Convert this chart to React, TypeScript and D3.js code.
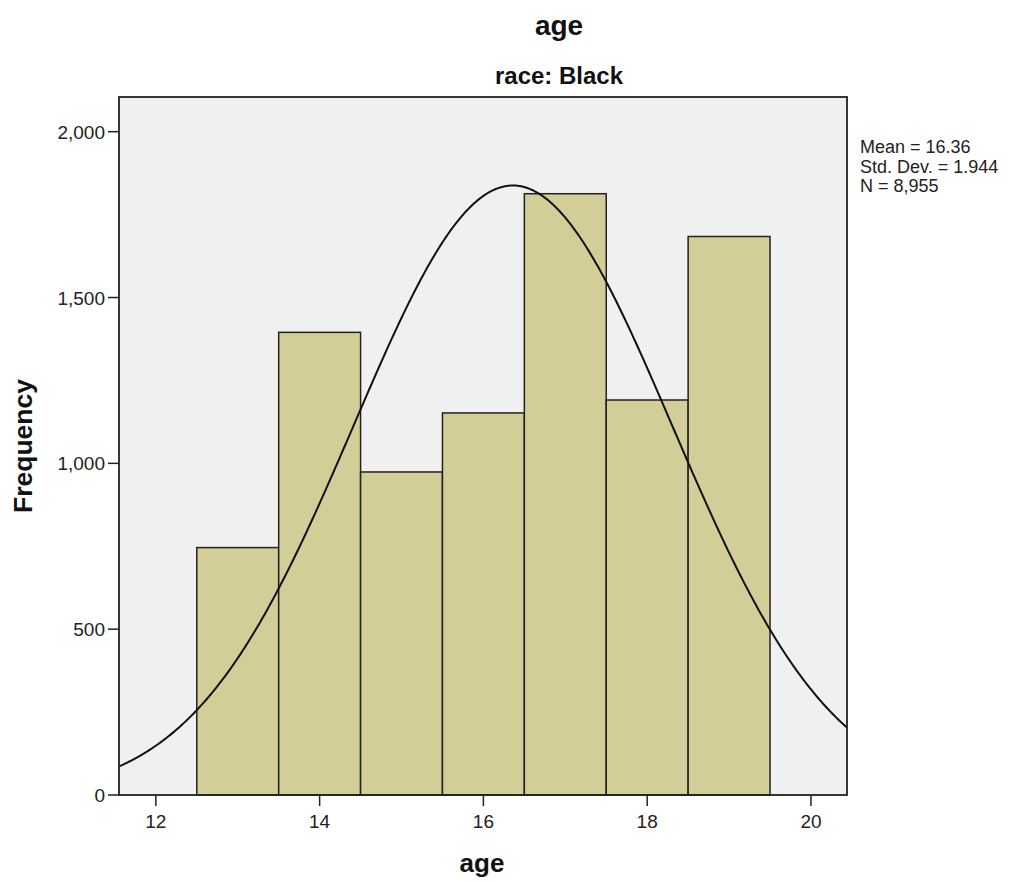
import React from "react";
import * as d3 from "d3";

const binStarts = [12.5, 13.5, 14.5, 15.5, 16.5, 17.5, 18.5];
const binCounts = [746, 1395, 974, 1152, 1813, 1191, 1684];
const xTicks = [12, 14, 16, 18, 20];
const yTicks = [0, 500, 1000, 1500, 2000];
const mean = 16.36;
const sd = 1.944;
const nTotal = 8955;
const binWidth = 1;
const legendLines = ["Mean = 16.36", "Std. Dev. = 1.944", "N = 8,955"];

export default function App() {
  const W = 1016, H = 882;
  const left = 119, right = 847, top = 97, bottom = 795;
  const x = d3.scaleLinear().domain([11.55, 20.44]).range([left, right]);
  const y = d3.scaleLinear().domain([0, 2000]).range([bottom, 131.7]);
  const fmt = d3.format(",");
  const pdf = (v: number) =>
    (nTotal * binWidth) / (sd * Math.sqrt(2 * Math.PI)) * Math.exp(-0.5 * ((v - mean) / sd) ** 2);
  const pts = d3.range(0, 401).map((i) => 11.55 + (i / 400) * (20.44 - 11.55));
  const line = d3.line<number>().x((d) => x(d)).y((d) => y(pdf(d)));
  const font = "Arial, 'Liberation Sans', sans-serif";
  return (
    <svg width={W} height={H} style={{ position: "absolute", left: 0, top: 0, background: "#fff" }} fontFamily={font}>
      <text x={559} y={35} textAnchor="middle" fontSize={28} fontWeight="bold" fill="#111">age</text>
      <text x={559} y={84} textAnchor="middle" fontSize={24} fontWeight="bold" fill="#111">race: Black</text>
      <rect x={left} y={top} width={right - left} height={bottom - top} fill="#F0F0F0" />
      <clipPath id="clip"><rect x={left} y={top} width={right - left} height={bottom - top} /></clipPath>
      {binStarts.map((b, i) => (
        <rect key={i} x={x(b)} y={y(binCounts[i])} width={x(b + binWidth) - x(b)} height={bottom - y(binCounts[i])}
          fill="#D3CE97" stroke="#222" strokeWidth={1.5} />
      ))}
      <path d={line(pts) || ""} fill="none" stroke="#111" strokeWidth={2} clipPath="url(#clip)" />
      <rect x={left} y={top} width={right - left} height={bottom - top} fill="none" stroke="#222" strokeWidth={1.8} />
      {yTicks.map((t) => (
        <g key={t}>
          <line x1={left - 11} x2={left} y1={y(t)} y2={y(t)} stroke="#222" strokeWidth={1.5} />
          <text x={left - 14} y={y(t) + 7} textAnchor="end" fontSize={19} fill="#222">{fmt(t)}</text>
        </g>
      ))}
      {xTicks.map((t) => (
        <g key={t}>
          <line x1={x(t)} x2={x(t)} y1={bottom} y2={bottom + 11} stroke="#222" strokeWidth={1.5} />
          <text x={x(t)} y={828} textAnchor="middle" fontSize={19} fill="#222">{t}</text>
        </g>
      ))}
      <text x={482} y={872} textAnchor="middle" fontSize={26} fontWeight="bold" fill="#111">age</text>
      <text transform={`translate(32, 446) rotate(-90)`} textAnchor="middle" fontSize={26.5} fontWeight="bold" fill="#111">Frequency</text>
      {legendLines.map((l, i) => (
        <text key={i} x={860} y={153 + i * 19.5} fontSize={18} fill="#222">{l}</text>
      ))}
    </svg>
  );
}
